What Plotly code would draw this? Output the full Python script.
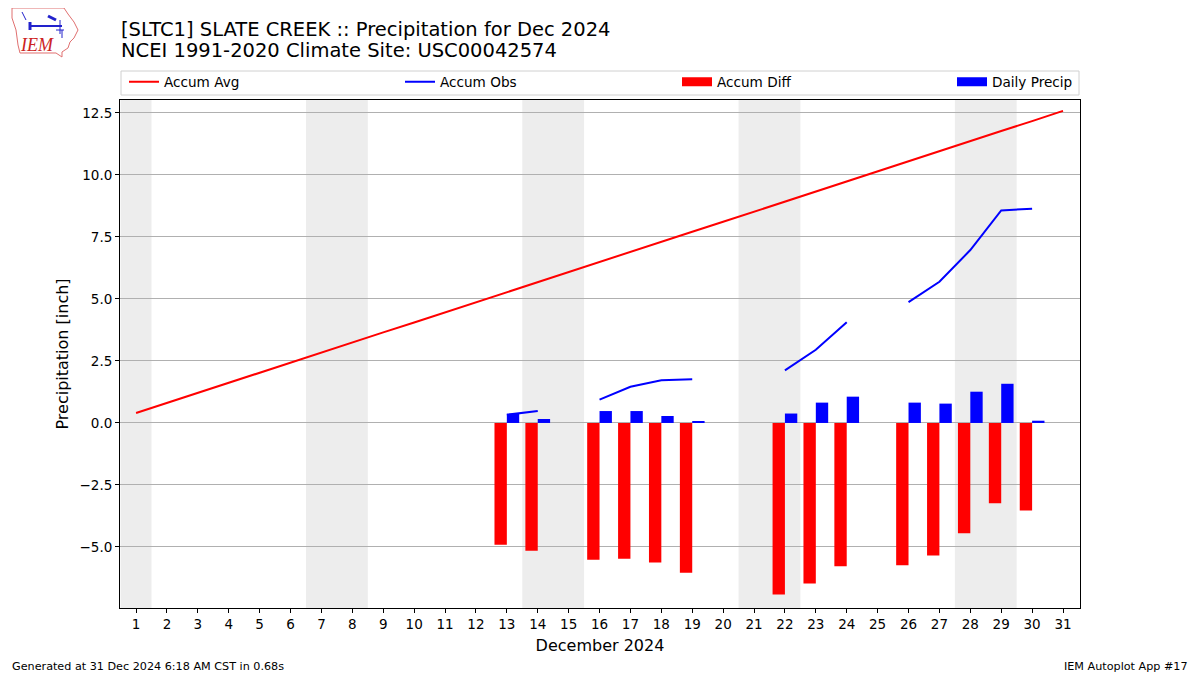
import plotly.graph_objects as go

days = list(range(1, 32))
tick_labels = [str(d) for d in days]

accum_avg = [0.40, 0.81, 1.21, 1.62, 2.02, 2.43, 2.84, 3.24, 3.65, 4.05,
             4.46, 4.87, 5.27, 5.68, 6.08, 6.49, 6.90, 7.30, 7.71, 8.11,
             8.52, 8.93, 9.33, 9.74, 10.14, 10.55, 10.96, 11.36, 11.77, 12.17, 12.58]

N = None
accum_obs = [N, N, N, N, N, N, N, N, N, N, N, N,
             0.33, 0.48, N, 0.94, 1.46, 1.72, 1.76, N, N,
             2.12, 2.95, 4.06, N, 4.87, 5.69, 6.97, 8.57, 8.64, N]

accum_diff = [N, N, N, N, N, N, N, N, N, N, N, N,
              -4.91, -5.15, N, -5.51, -5.47, -5.63, -6.04, N, N,
              -6.92, -6.47, -5.78, N, -5.74, -5.34, -4.45, -3.24, -3.53, N]

daily_precip = [N, N, N, N, N, N, N, N, N, N, N, N,
                0.37, 0.16, N, 0.48, 0.48, 0.28, 0.04, N, N,
                0.38, 0.82, 1.06, N, 0.82, 0.78, 1.26, 1.58, 0.09, N]

weekend_spans = [(0.5, 1.5), (6.5, 8.5), (13.5, 15.5), (20.5, 22.5), (27.5, 29.5)]

FONT = "DejaVu Sans"
# target (screen) geometry; the page body adds an 8px offset
OFF = 8
L, R, T, B = 120, 1080, 100, 608
W, H = 1200 - OFF, 675 - OFF


def px(x):
    return (x - L) / (R - L)


def py(y):
    return (B - y) / (B - T)


fig = go.Figure()

fig.add_trace(go.Scatter(x=days, y=accum_avg, mode="lines", name="Accum Avg",
                         line=dict(color="#ff0000", width=2), legend="legend"))
fig.add_trace(go.Scatter(x=days, y=accum_obs, mode="lines", name="Accum Obs",
                         line=dict(color="#0000ff", width=2), connectgaps=False,
                         legend="legend2"))
fig.add_trace(go.Bar(x=days, y=accum_diff, name="Accum Diff", marker_color="#ff0000",
                     marker_line_width=0, width=0.4, offset=-0.4, showlegend=False))
fig.add_trace(go.Bar(x=days, y=daily_precip, name="Daily Precip", marker_color="#0000ff",
                     marker_line_width=0, width=0.4, offset=0.0, showlegend=False))
# legend proxies giving the bars a wide rectangular legend key
fig.add_trace(go.Scatter(x=[None], y=[None], mode="lines", name="Accum Diff",
                         line=dict(color="#ff0000", width=9), legend="legend3"))
fig.add_trace(go.Scatter(x=[None], y=[None], mode="lines", name="Daily Precip",
                         line=dict(color="#0000ff", width=9), legend="legend4"))

shapes = []
for a, b in weekend_spans:
    shapes.append(dict(type="rect", xref="x", yref="paper", x0=a, x1=b, y0=0, y1=1,
                       fillcolor="#ededed", line_width=0, layer="below"))
# legend frame
shapes.append(dict(type="rect", xref="paper", yref="paper", x0=px(121), x1=px(1079),
                   y0=py(95), y1=py(71), line=dict(color="#d0d0d0", width=1),
                   fillcolor="white", layer="below"))
# logo outline (Iowa shape)
iowa = [(12, 8), (64, 8), (68, 14), (74, 22), (78, 30), (74, 38), (70, 42), (68, 48),
        (62, 52), (62, 57), (56, 53), (20, 53), (18, 45), (16, 30), (12, 18)]
path = "M " + " L ".join(f"{px(x):.5f},{py(y):.5f}" for x, y in iowa) + " Z"
shapes.append(dict(type="path", xref="paper", yref="paper", path=path,
                   line=dict(color="#e07070", width=1)))
for (x0, y0, x1, y1, w) in [(30, 26, 62, 26, 2), (22, 12, 26, 20, 1), (48, 16, 56, 20, 3),
                            (60, 20, 60, 34, 1), (30, 22, 30, 30, 3), (56, 30, 64, 30, 1),
                            (62, 30, 62, 38, 1)]:
    shapes.append(dict(type="line", xref="paper", yref="paper", x0=px(x0), y0=py(y0),
                       x1=px(x1), y1=py(y1), line=dict(color="#2222cc", width=w)))

annotations = [
    dict(text="[SLTC1] SLATE CREEK :: Precipitation for Dec 2024", xref="paper", yref="paper",
         x=px(119), y=py(29), xanchor="left", yanchor="middle", showarrow=False,
         font=dict(family=FONT, size=19.5, color="black")),
    dict(text="NCEI 1991-2020 Climate Site: USC00042574", xref="paper", yref="paper",
         x=px(119), y=py(51), xanchor="left", yanchor="middle", showarrow=False,
         font=dict(family=FONT, size=19.5, color="black")),
    dict(text="Generated at 31 Dec 2024 6:18 AM CST in 0.68s", xref="paper", yref="paper",
         x=px(10), y=py(666), xanchor="left", yanchor="middle", showarrow=False,
         font=dict(family=FONT, size=11.2, color="black")),
    dict(text="IEM Autoplot App #17", xref="paper", yref="paper",
         x=px(1190), y=py(666), xanchor="right", yanchor="middle", showarrow=False,
         font=dict(family=FONT, size=11.2, color="black")),
    dict(text="<i>IEM</i>", xref="paper", yref="paper", x=px(37), y=py(45),
         xanchor="center", yanchor="middle", showarrow=False,
         font=dict(family="Liberation Serif", size=18, color="#cc2222")),
]


def leg(xpix):
    return dict(orientation="h", x=px(xpix), xanchor="left", y=py(82), yanchor="middle",
                bgcolor="rgba(0,0,0,0)", borderwidth=0,
                font=dict(family=FONT, size=13.6, color="black"), itemclick=False)


fig.update_layout(
    width=W, height=H,
    margin=dict(l=L - OFF, r=W - (R - OFF), t=T - OFF, b=H - (B - OFF)),
    paper_bgcolor="white", plot_bgcolor="white",
    barmode="overlay",
    showlegend=True,
    legend=leg(124), legend2=leg(400), legend3=leg(677), legend4=leg(952),
    shapes=shapes,
    annotations=annotations,
    font=dict(family=FONT, color="black"),
    xaxis=dict(range=[0.48, 31.55], tickmode="array", tickvals=days, ticktext=tick_labels,
               showgrid=False, zeroline=False, ticks="outside", ticklen=4, tickcolor="black",
               showline=True, linecolor="black", linewidth=1, mirror=True,
               tickfont=dict(family=FONT, size=13.5),
               title=dict(text="December 2024", font=dict(family=FONT, size=16), standoff=8)),
    yaxis=dict(range=[-7.46, 13.02], tickmode="array",
               tickvals=[-5, -2.5, 0, 2.5, 5, 7.5, 10, 12.5], tickformat=".1f",
               showgrid=True, gridcolor="#b0b0b0", gridwidth=1, zeroline=False,
               ticks="outside", ticklen=4, tickcolor="black",
               showline=True, linecolor="black", linewidth=1, mirror=True,
               tickfont=dict(family=FONT, size=13.5),
               title=dict(text="Precipitation [inch]", font=dict(family=FONT, size=16), standoff=6)),
)

fig.write_html("out.html")
